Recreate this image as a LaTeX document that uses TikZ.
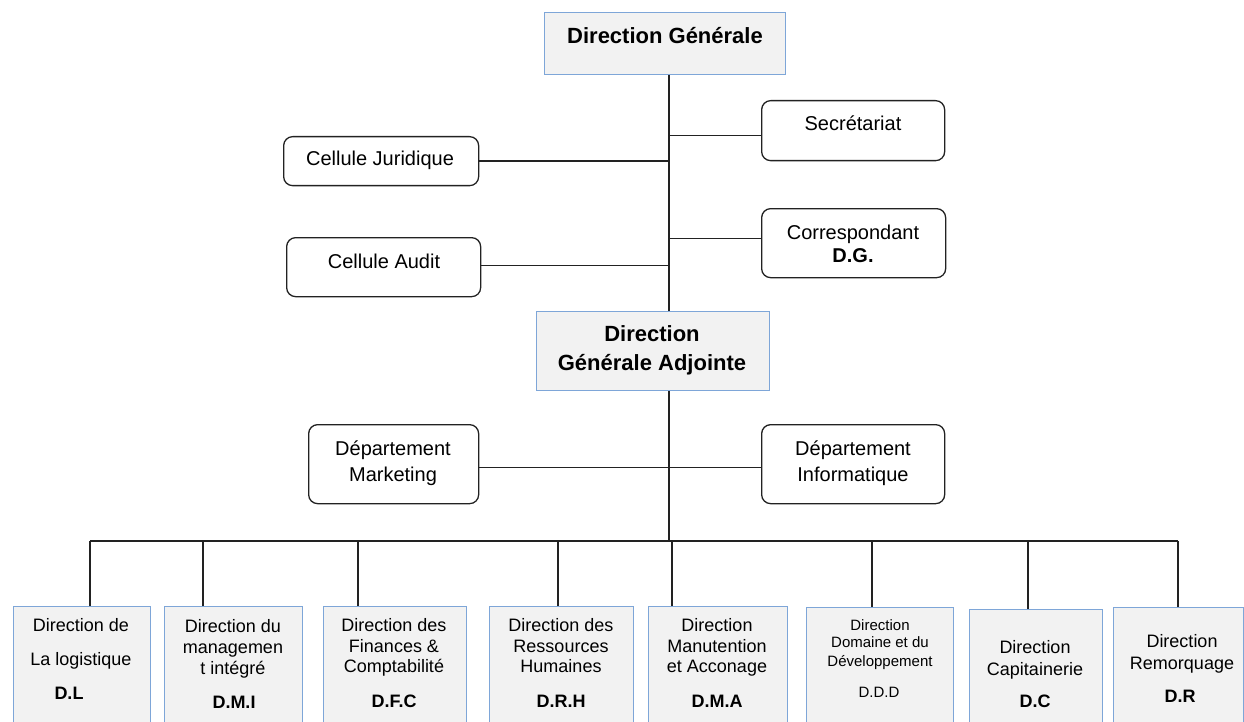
\documentclass[tikz,border=0pt]{standalone}
\usepackage{fontspec}
\setmainfont{Liberation Sans}
\definecolor{boxblue}{HTML}{7EA6D8}
\definecolor{boxgray}{HTML}{F2F2F2}
\definecolor{inkline}{HTML}{222222}
\begin{document}
\begin{tikzpicture}[x=1pt,y=-1pt,
  head/.style={draw=boxblue, fill=boxgray, line width=1.4pt, inner sep=0pt, anchor=north west},
  unit/.style={draw=inkline, fill=white, rounded corners=9pt, line width=1.3pt, inner sep=0pt, anchor=north west},
  link/.style={draw=inkline, line width=1.3pt},
  big/.style={anchor=base, inner sep=0pt, font=\fontsize{22}{26}\selectfont\bfseries},
  mid/.style={anchor=base, inner sep=0pt, font=\fontsize{20}{24}\selectfont},
  midb/.style={anchor=base, inner sep=0pt, font=\fontsize{20}{24}\selectfont\bfseries},
  low/.style={anchor=base, inner sep=0pt, font=\fontsize{18}{22}\selectfont},
  lowb/.style={anchor=base, inner sep=0pt, font=\fontsize{18}{22}\selectfont\bfseries},
  tiny/.style={anchor=base, inner sep=0pt, font=\fontsize{15}{18}\selectfont}
]
\useasboundingbox (0,0) rectangle (1244,722);
\clip (0,0) rectangle (1244,722);

% ---- top management ----
\node[head, minimum width=241pt, minimum height=62pt] (dg) at (544,12) {};
\node[big] (tdg) at (665,44) {Direction Générale};

\node[unit, minimum width=183pt, minimum height=60pt] (sec) at (761,100) {};
\node[mid] (tsec) at (853,131) {Secrétariat};

\node[unit, minimum width=195pt, minimum height=49pt] (jur) at (283,136) {};
\node[mid] (tjur) at (380,166) {Cellule Juridique};

\node[unit, minimum width=184pt, minimum height=69pt] (cor) at (761,208) {};
\node[mid] (tcor1) at (853,239) {Correspondant};
\node[midb] (tcor2) at (853,262) {D.G.};

\node[unit, minimum width=194pt, minimum height=59pt] (aud) at (286,237) {};
\node[mid] (taud) at (384,268) {Cellule Audit};

\node[head, minimum width=233pt, minimum height=79pt] (dga) at (536,311) {};
\node[big] (tdga1) at (652,341) {Direction};
\node[big] (tdga2) at (652,370) {Générale Adjointe};

\node[unit, minimum width=170pt, minimum height=79pt] (mkt) at (308,424) {};
\node[mid] (tmkt1) at (393,455) {Département};
\node[mid] (tmkt2) at (393,481) {Marketing};

\node[unit, minimum width=183pt, minimum height=79pt] (inf) at (761,424) {};
\node[mid] (tinf1) at (853,455) {Département};
\node[mid] (tinf2) at (853,481) {Informatique};

% ---- directions ----
\node[head, minimum width=137pt, minimum height=130pt] (dl) at (13,606) {};
\node[low] (tdl1) at (81,631) {Direction de};
\node[low] (tdl2) at (81,665) {La logistique};
\node[lowb] (tdl3) at (69,699) {D.L};

\node[head, minimum width=138pt, minimum height=130pt] (dmi) at (164,606) {};
\node[low] (tdmi1) at (233,632) {Direction du};
\node[low] (tdmi2) at (233,653) {managemen};
\node[low] (tdmi3) at (233,674) {t intégré};
\node[lowb] (tdmi4) at (234,708) {D.M.I};

\node[head, minimum width=143pt, minimum height=130pt] (dfc) at (323,606) {};
\node[low] (tdfc1) at (394,631) {Direction des};
\node[low] (tdfc2) at (394,652) {Finances \&};
\node[low] (tdfc3) at (394,672) {Comptabilité};
\node[lowb] (tdfc4) at (394,707) {D.F.C};

\node[head, minimum width=144pt, minimum height=130pt] (drh) at (489,606) {};
\node[low] (tdrh1) at (561,631) {Direction des};
\node[low] (tdrh2) at (561,652) {Ressources};
\node[low] (tdrh3) at (561,672) {Humaines};
\node[lowb] (tdrh4) at (561,707) {D.R.H};

\node[head, minimum width=139pt, minimum height=130pt] (dma) at (648,606) {};
\node[low] (tdma1) at (717,631) {Direction};
\node[low] (tdma2) at (717,652) {Manutention};
\node[low] (tdma3) at (717,672) {et Acconage};
\node[lowb] (tdma4) at (717,707) {D.M.A};

\node[head, minimum width=147pt, minimum height=130pt] (ddd) at (806,607) {};
\node[tiny] (tddd1) at (880,630) {Direction};
\node[tiny] (tddd2) at (880,647) {Domaine et du};
\node[tiny] (tddd3) at (880,666) {Développement};
\node[tiny] (tddd4) at (879,697) {D.D.D};

\node[head, minimum width=133pt, minimum height=130pt] (dc) at (969,609) {};
\node[low] (tdc1) at (1035,653) {Direction};
\node[low] (tdc2) at (1035,675) {Capitainerie};
\node[lowb] (tdc3) at (1035,707) {D.C};

\node[head, minimum width=130pt, minimum height=130pt] (dr) at (1113,607) {};
\node[low] (tdr1) at (1182,647) {Direction};
\node[low] (tdr2) at (1182,669) {Remorquage};
\node[lowb] (tdr3) at (1180,702) {D.R};

% ---- connectors ----
\coordinate (tx) at (669,0);
\coordinate (bus) at (0,541);
\draw[link] (dg.south -| tx) -- (dga.north -| tx);
\draw[link] ([yshift=-5pt]sec.west) -- ([yshift=-5pt]sec.west -| tx);
\draw[link] (jur.east) -- (jur.east -| tx);
\draw[link] ([yshift=4.5pt]cor.west) -- ([yshift=4.5pt]cor.west -| tx);
\draw[link] ([yshift=1.5pt]aud.east) -- ([yshift=1.5pt]aud.east -| tx);
\draw[link] ([yshift=-3.5pt]mkt.east) -- ([yshift=-3.5pt]inf.west);
\draw[link] (dga.south -| tx) -- (tx |- bus);

\coordinate (d1) at (90,541);
\coordinate (d2) at (203,541);
\coordinate (d3) at (358,541);
\coordinate (d4) at (558,541);
\coordinate (d5) at (672,541);
\coordinate (d6) at (872,541);
\coordinate (d7) at (1028,541);
\coordinate (d8) at (1178,541);
\draw[link] (d1) -- (d8);
\draw[link] (d1) -- (d1 |- dl.north);
\draw[link] (d2) -- (d2 |- dmi.north);
\draw[link] (d3) -- (d3 |- dfc.north);
\draw[link] (d4) -- (d4 |- drh.north);
\draw[link] (d5) -- (d5 |- dma.north);
\draw[link] (d6) -- (d6 |- ddd.north);
\draw[link] (d7) -- (d7 |- dc.north);
\draw[link] (d8) -- (d8 |- dr.north);
\end{tikzpicture}
\end{document}
